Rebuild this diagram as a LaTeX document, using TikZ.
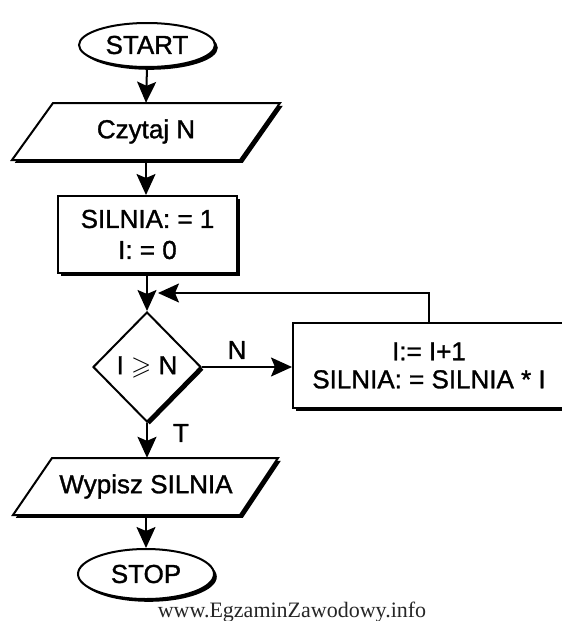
\documentclass[tikz,border=0pt]{standalone}
\usepackage{amssymb}
\usepackage{fontspec}
\setmainfont{Liberation Sans}[FakeBold=1]
\newfontfamily\labfont{Liberation Sans}[AutoFakeBold=1.2]
\newfontfamily\wmfont{Liberation Serif}
\usetikzlibrary{arrows.meta,shapes.geometric,shadows}
\begin{document}
\begin{tikzpicture}[x=1pt,y=-1pt,
  shp/.style={draw=black, line width=2pt, fill=white,
    drop shadow={shadow xshift=2.8pt, shadow yshift=-2.8pt, fill=black, opacity=1}},
  term/.style={shp, ellipse, inner sep=0pt, minimum width=136pt, minimum height=44pt},
  proc/.style={shp, rectangle, inner sep=0pt, align=center},
  dec/.style={shp, diamond, inner sep=0pt, aspect=1, minimum width=108pt, minimum height=110pt},
  iotext/.style={inner sep=0pt, minimum height=57pt},
  lbl/.style={inner sep=0pt},
  flow/.style={line width=2pt, -{Stealth[length=21pt,width=19pt,inset=4pt]}},
  font=\labfont\bfseries\fontsize{26}{30}\selectfont]
\useasboundingbox (0,0) rectangle (562,621);
\clip (0,0) rectangle (562,621);
\fill[white] (0,0) rectangle (562,621);

% terminals
\node[term] (start) at (147,45) {START};
\node[term, minimum height=50pt] (stop) at (146,574) {STOP};

% input parallelogram
\draw[shp, line join=miter] (53,103) -- (280,103) -- (240,160) -- (12,160) -- cycle;
\node[iotext] (read) at (146,131.5) {Czytaj N};

% init box
\node[proc, minimum width=179pt, minimum height=77pt] (init) at (147.5,234.5)
  {SILNIA: = 1\\[1pt] I: = 0};

% decision
\node[dec] (cond) at (147,367) {I $\geqslant$ N};

% loop body
\node[proc, minimum width=272pt, minimum height=85pt] (body) at (429,365.5)
  {I:= I+1\\[-2pt] SILNIA: = SILNIA * I};

% output parallelogram
\draw[shp, line join=miter] (52,458) -- (278,458) -- (240,515) -- (13,515) -- cycle;
\node[iotext] (write) at (146,486.5) {Wypisz SILNIA};

% labels
\node[lbl] (lN) at (237,350) {N};
\node[lbl] (lT) at (181,433) {T};

% connectors
\coordinate (loopin) at (158,293);
\draw[flow] (start.south) -- (read.north);
\draw[flow] (read.south) -- (read.south |- init.north);
\draw[flow] (init.south -| cond.north) -- (cond.north);
\draw[flow] (cond.east) -- (cond.east -| body.west);
\draw[flow] (body.north) |- (loopin);
\draw[flow] (cond.south) -- (cond.south |- write.north);
\draw[flow] (write.south) -- (stop.north);

% watermark
\node[lbl, anchor=base, text=black!85, font=\wmfont\fontsize{22}{25}\selectfont] (wm) at (292,617) {www.EgzaminZawodowy.info};
\end{tikzpicture}
\end{document}
